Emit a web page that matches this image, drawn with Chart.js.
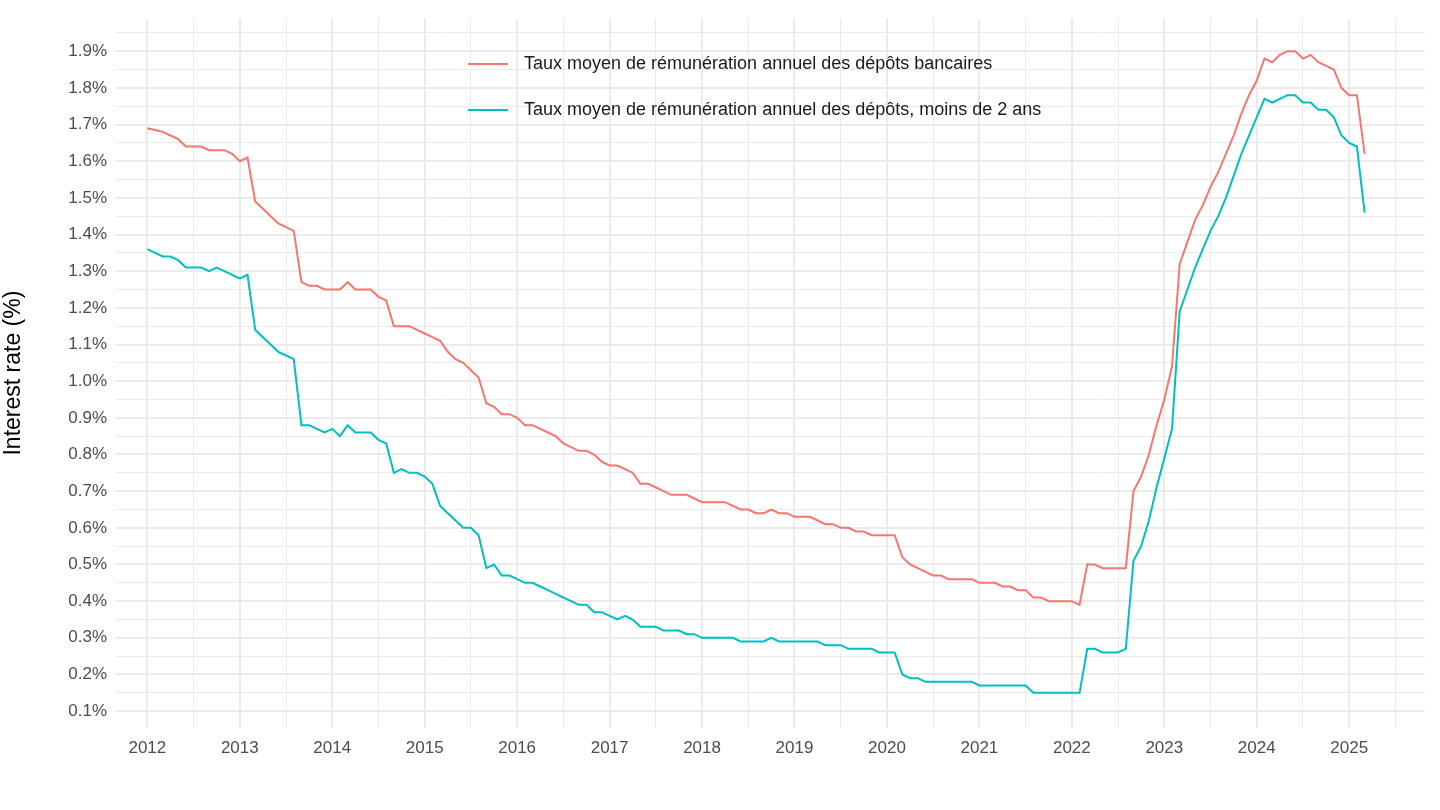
<!DOCTYPE html>
<html>
<head>
<meta charset="utf-8">
<script src="https://cdn.jsdelivr.net/npm/chart.js@4"></script>
<style>
  html, body { margin: 0; padding: 0; background: #fff; }
  #wrap { width: 1440px; height: 810px; }
</style>
</head>
<body>
<div id="wrap"><canvas id="rates"></canvas></div>
<script>
// Monthly values, Jan 2012 .. Mar 2025
const startYear = 2012;
const labelAll = "Taux moyen de rémunération annuel des dépôts bancaires";
const labelShort = "Taux moyen de rémunération annuel des dépôts, moins de 2 ans";
const fontFam = "'Liberation Sans', Arial, sans-serif";

const depotsAll = [
  1.69, 1.685, 1.68, 1.67, 1.66, 1.64, 1.64, 1.64, 1.63, 1.63, 1.63, 1.62,
  1.60, 1.61, 1.49, 1.47, 1.45, 1.43, 1.42, 1.41, 1.27, 1.26, 1.26, 1.25,
  1.25, 1.25, 1.27, 1.25, 1.25, 1.25, 1.23, 1.22, 1.15, 1.15, 1.15, 1.14,
  1.13, 1.12, 1.11, 1.08, 1.06, 1.05, 1.03, 1.01, 0.94, 0.93, 0.91, 0.91,
  0.90, 0.88, 0.88, 0.87, 0.86, 0.85, 0.83, 0.82, 0.81, 0.81, 0.80, 0.78,
  0.77, 0.77, 0.76, 0.75, 0.72, 0.72, 0.71, 0.70, 0.69, 0.69, 0.69, 0.68,
  0.67, 0.67, 0.67, 0.67, 0.66, 0.65, 0.65, 0.64, 0.64, 0.65, 0.64, 0.64,
  0.63, 0.63, 0.63, 0.62, 0.61, 0.61, 0.60, 0.60, 0.59, 0.59, 0.58, 0.58,
  0.58, 0.58, 0.52, 0.50, 0.49, 0.48, 0.47, 0.47, 0.46, 0.46, 0.46, 0.46,
  0.45, 0.45, 0.45, 0.44, 0.44, 0.43, 0.43, 0.41, 0.41, 0.40, 0.40, 0.40,
  0.40, 0.39, 0.50, 0.50, 0.49, 0.49, 0.49, 0.49, 0.70, 0.74, 0.80, 0.88,
  0.95, 1.04, 1.32, 1.38, 1.44, 1.48, 1.53, 1.57, 1.62, 1.67, 1.73, 1.78,
  1.82, 1.88, 1.87, 1.89, 1.90, 1.90, 1.88, 1.89, 1.87, 1.86, 1.85, 1.80,
  1.78, 1.78, 1.62
];

const depotsShort = [
  1.36, 1.35, 1.34, 1.34, 1.33, 1.31, 1.31, 1.31, 1.30, 1.31, 1.30, 1.29,
  1.28, 1.29, 1.14, 1.12, 1.10, 1.08, 1.07, 1.06, 0.88, 0.88, 0.87, 0.86,
  0.87, 0.85, 0.88, 0.86, 0.86, 0.86, 0.84, 0.83, 0.75, 0.76, 0.75, 0.75,
  0.74, 0.72, 0.66, 0.64, 0.62, 0.60, 0.60, 0.58, 0.49, 0.50, 0.47, 0.47,
  0.46, 0.45, 0.45, 0.44, 0.43, 0.42, 0.41, 0.40, 0.39, 0.39, 0.37, 0.37,
  0.36, 0.35, 0.36, 0.35, 0.33, 0.33, 0.33, 0.32, 0.32, 0.32, 0.31, 0.31,
  0.30, 0.30, 0.30, 0.30, 0.30, 0.29, 0.29, 0.29, 0.29, 0.30, 0.29, 0.29,
  0.29, 0.29, 0.29, 0.29, 0.28, 0.28, 0.28, 0.27, 0.27, 0.27, 0.27, 0.26,
  0.26, 0.26, 0.20, 0.19, 0.19, 0.18, 0.18, 0.18, 0.18, 0.18, 0.18, 0.18,
  0.17, 0.17, 0.17, 0.17, 0.17, 0.17, 0.17, 0.15, 0.15, 0.15, 0.15, 0.15,
  0.15, 0.15, 0.27, 0.27, 0.26, 0.26, 0.26, 0.27, 0.51, 0.55, 0.62, 0.71,
  0.79, 0.87, 1.19, 1.25, 1.31, 1.36, 1.41, 1.45, 1.50, 1.56, 1.62, 1.67,
  1.72, 1.77, 1.76, 1.77, 1.78, 1.78, 1.76, 1.76, 1.74, 1.74, 1.72, 1.67,
  1.65, 1.64, 1.46
];

const toPoints = arr => arr.map((v, i) => ({ x: startYear + i / 12, y: v }));

const isInt = v => Math.abs(v - Math.round(v)) < 1e-6;
const isTenth = v => Math.abs(v * 10 - Math.round(v * 10)) < 1e-6;

// legend drawn inside the plot, ggplot style
const insideLegend = {
  id: "insideLegend",
  afterDraw(chart) {
    const c = chart.ctx;
    const rows = [[labelAll, "#F8766D", 64], [labelShort, "#00BFC4", 110]];
    c.save();
    c.font = "18px " + fontFam;
    c.textBaseline = "middle";
    rows.forEach(([text, color, y]) => {
      c.strokeStyle = color;
      c.lineWidth = 2;
      c.beginPath();
      c.moveTo(468, y);
      c.lineTo(508, y);
      c.stroke();
      c.fillStyle = "#1a1a1a";
      c.fillText(text, 524, y);
    });
    c.restore();
  }
};

const ctx = document.getElementById("rates").getContext("2d");
new Chart(ctx, {
  type: "line",
  data: {
    datasets: [
      { label: labelAll, data: toPoints(depotsAll), borderColor: "#F8766D", borderWidth: 2, pointRadius: 0, fill: false, tension: 0 },
      { label: labelShort, data: toPoints(depotsShort), borderColor: "#00BFC4", borderWidth: 2, pointRadius: 0, fill: false, tension: 0 }
    ]
  },
  options: {
    responsive: true,
    maintainAspectRatio: false,
    animation: false,
    layout: { padding: { top: 15, right: 15, left: 0, bottom: 0 } },
    plugins: { legend: { display: false }, tooltip: { enabled: false } },
    scales: {
      x: {
        type: "linear",
        min: 2011.65,
        max: 2025.82,
        afterBuildTicks: axis => {
          const t = [];
          for (let v = 2011.5; v <= 2025.5; v += 0.5) if (v >= axis.min && v <= axis.max) t.push({ value: v });
          axis.ticks = t;
        },
        afterFit: axis => { axis.height = 82; },
        border: { display: false },
        grid: {
          color: "#ebebeb",
          lineWidth: c => (isInt(c.tick.value) ? 2 : 1),
          drawTicks: false
        },
        ticks: {
          autoSkip: false,
          maxRotation: 0,
          padding: 10,
          color: "#4d4d4d",
          font: { size: 17, family: fontFam },
          callback: v => (isInt(v) ? String(Math.round(v)) : "")
        }
      },
      y: {
        min: 0.054,
        max: 1.99,
        afterBuildTicks: axis => {
          const t = [];
          for (let k = 1; k <= 39; k++) { const v = k * 0.05; if (v >= axis.min && v <= axis.max) t.push({ value: v }); }
          axis.ticks = t;
        },
        afterFit: axis => { axis.width = 115; },
        border: { display: false },
        grid: {
          color: "#ebebeb",
          lineWidth: c => (isTenth(c.tick.value) ? 2 : 1),
          drawTicks: false
        },
        title: {
          display: true,
          text: "Interest rate (%)",
          color: "#000",
          padding: { top: 0, bottom: 0 },
          font: { size: 23, family: fontFam }
        },
        ticks: {
          autoSkip: false,
          padding: 8,
          color: "#4d4d4d",
          font: { size: 17, family: fontFam },
          callback: v => (isTenth(v) ? v.toFixed(1) + "%" : "")
        }
      }
    }
  },
  plugins: [insideLegend]
});
</script>
</body>
</html>
